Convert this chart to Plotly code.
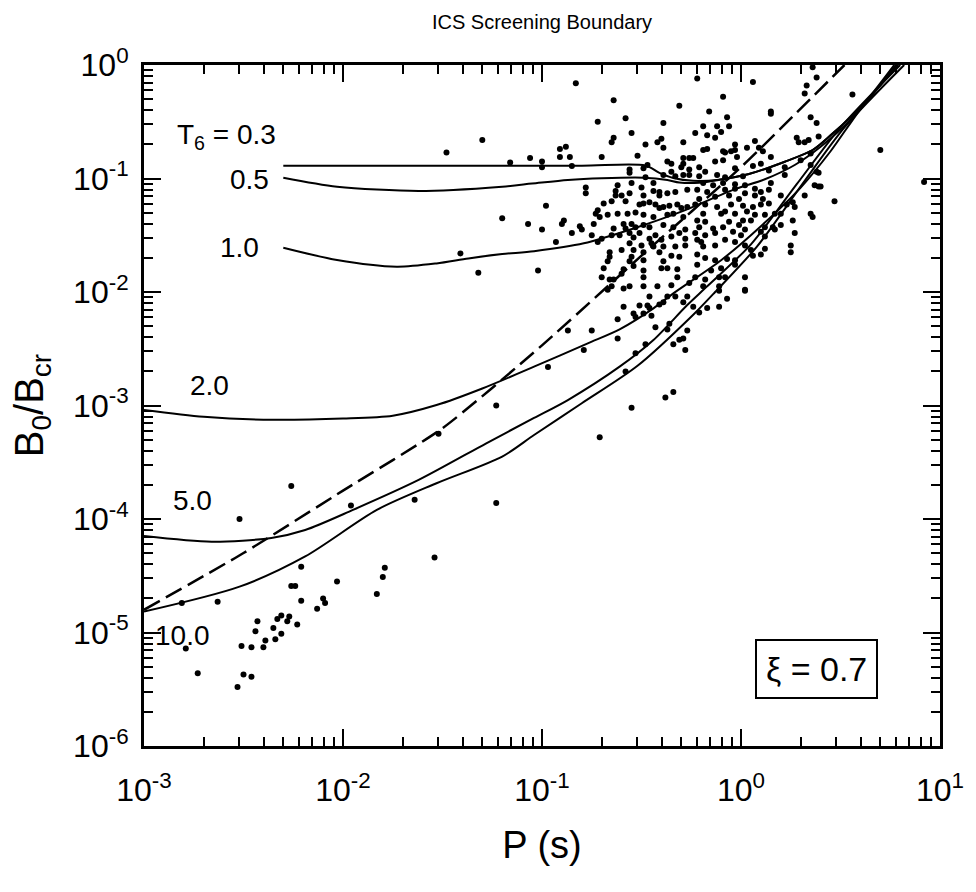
import plotly.graph_objects as go

# ---------------- data (log10 units) ----------------
x_tick_vals = [1e-3, 1e-2, 1e-1, 1e0, 1e1]
x_tick_text = ["10<sup>-3</sup>", "10<sup>-2</sup>", "10<sup>-1</sup>", "10<sup>0</sup>", "10<sup>1</sup>"]
y_tick_vals = [1e-6, 1e-5, 1e-4, 1e-3, 1e-2, 1e-1, 1e0]
y_tick_text = ["10<sup>-6</sup>", "10<sup>-5</sup>", "10<sup>-4</sup>", "10<sup>-3</sup>",
               "10<sup>-2</sup>", "10<sup>-1</sup>", "10<sup>0</sup>"]

# pulsars: (log10 P, log10 B0/Bcr)
pulsar_logP_logB = [
    (-1.48,-0.77), (-1.30,-0.66), (-1.16,-0.86), (-1.06,-0.82), (-1.20,-1.35), (-1.07,-1.40), (-1.41,-1.66), (-1.32,-1.83),
    (-1.23,-3.00), (-1.52,-3.25), (-2.26,-3.71), (-2.52,-4.00), (-1.96,-3.88), (-1.64,-3.83), (-1.23,-3.86), (-1.54,-4.34),
    (-2.21,-4.42), (-1.79,-4.43), (-1.80,-4.51), (-2.03,-4.55), (-2.26,-4.59), (-2.24,-4.59), (-1.83,-4.66), (-2.10,-4.70),
    (-2.09,-4.74), (-2.21,-4.72), (-2.13,-4.79), (-2.81,-4.74), (-2.63,-4.73), (-2.43,-4.90), (-2.33,-4.88), (-2.31,-4.85),
    (-2.27,-4.86), (-2.28,-4.90), (-2.23,-4.93), (-2.35,-4.96),
    (-2.79,-5.14), (-2.73,-5.36), (-2.51,-5.12), (-2.50,-5.37), (-2.46,-5.39), (-2.53,-5.48), (-2.46,-5.13), (-2.40,-5.13),
    (-2.39,-5.07), (-2.44,-4.99), (-2.34,-5.06), (-2.31,-5.01),
    (-0.97,-2.66), (-0.79,-2.51), (-0.62,-2.41), (-0.87,-2.34), (-0.75,-2.34), (-0.58,-2.70), (-0.53,-2.54), (-0.48,-2.46),
    (-0.34,-2.46), (-0.31,-2.42), (-0.29,-2.41), (-0.28,-2.51), (-0.27,-2.34), (-0.55,-3.02), (-0.38,-2.93), (-0.34,-2.88),
    (-0.71,-3.28),
    (-0.21,-2.18), (-0.17,-2.14), (-0.11,-2.13), (-0.07,-2.06), (-0.11,-1.99), (0.02,-1.99),
    (-0.62,-2.24), (-0.59,-2.13), (-0.54,-2.19), (-0.53,-2.22), (-0.51,-2.12), (-0.49,-2.19), (-0.47,-2.12), (-0.46,-2.14),
    (-0.45,-2.21), (-0.46,-2.04), (-0.43,-2.31), (-0.41,-2.11), (-0.39,-2.09), (-0.37,-2.04), (-0.36,-2.28), (-0.37,-2.33),
    (-0.33,-2.04), (-0.29,-2.09), (-0.27,-2.04),
    (-0.83,-0.16), (-0.64,-0.31), (-0.31,-0.36), (-0.72,-0.50), (-0.58,-0.47), (-0.39,-0.51), (-0.55,-0.60), (-0.64,-0.64),
    (-0.65,-0.68), (-0.91,-0.74), (-0.88,-0.72), (-0.91,-0.81), (-0.86,-0.81), (-0.70,-0.81), (-0.52,-0.80), (-0.48,-0.70),
    (-0.42,-0.68), (-0.40,-0.65), (-0.39,-0.73), (-0.29,-0.68), (-0.85,-0.89), (-0.56,-0.92), (-0.56,-0.95), (-0.49,-0.91),
    (-0.47,-0.88), (-0.37,-0.85), (-0.35,-0.87), (-0.29,-0.82), (-0.29,-0.87), (-0.30,-0.90), (-0.26,-0.82), (-0.26,-0.92),
    (-0.35,-0.94), (-0.39,-0.97), (-0.48,-0.99), (-0.33,-0.98), (-0.29,-0.97), (-0.26,-0.97),
    (-0.22,-0.12), (0.06,-0.15), (0.36,-0.02), (0.38,-0.11), (0.33,-0.18), (0.32,-0.25), (-0.09,-0.28), (-0.16,-0.41),
    (0.15,-0.41), (0.15,-0.43), (-0.07,-0.46), (0.35,-0.46), (0.38,-0.51), (-0.19,-0.54), (-0.12,-0.54), (-0.06,-0.54),
    (-0.23,-0.60), (-0.17,-0.62), (-0.13,-0.64), (-0.10,-0.59), (0.07,-0.67), (0.28,-0.64), (0.29,-0.68), (0.32,-0.68),
    (0.34,-0.66), (0.39,-0.63), (-0.03,-0.70), (-0.19,-0.75), (-0.17,-0.74), (-0.09,-0.76), (-0.08,-0.77), (-0.05,-0.76),
    (-0.03,-0.75), (0.03,-0.73), (0.09,-0.73), (0.11,-0.76), (-0.24,-0.82), (-0.21,-0.90), (-0.13,-0.85), (-0.09,-0.84),
    (-0.02,-0.81), (0.15,-0.81), (0.06,-0.89), (0.10,-0.87), (-0.03,-0.91), (-0.18,-0.94), (-0.12,-0.97), (-0.08,-0.99),
    (0.01,-0.98), (0.14,-0.93), (0.22,-0.90), (0.22,-0.97), (0.30,-0.84), (0.35,-0.88), (0.38,-0.94), (-0.21,-0.98),
    (-0.78,-1.08), (-0.78,-1.13), (-0.62,-1.06), (-0.55,-1.04), (-0.50,-1.08), (-0.44,-1.04), (-0.63,-1.11), (-0.63,-1.15),
    (-0.60,-1.15), (-0.56,-1.13), (-0.49,-1.15), (-0.44,-1.11), (-0.41,-1.12), (-0.41,-1.15), (-0.37,-1.13), (-0.33,-1.12),
    (-0.27,-1.10), (-0.69,-1.22), (-0.65,-1.20), (-0.58,-1.20), (-0.51,-1.23), (-0.49,-1.22), (-0.46,-1.21), (-0.43,-1.23),
    (-0.41,-1.26), (-0.39,-1.25), (-0.36,-1.24), (-0.32,-1.23), (-0.30,-1.26), (-0.27,-1.25), (-0.72,-1.28), (-0.73,-1.31),
    (-0.71,-1.34), (-0.67,-1.32), (-0.62,-1.31), (-0.57,-1.31), (-0.53,-1.30), (-0.49,-1.32), (-0.44,-1.34), (-0.37,-1.32),
    (-0.34,-1.31), (-0.29,-1.34), (-0.89,-1.37), (-0.90,-1.40), (-0.81,-1.42), (-0.80,-1.45), (-0.74,-1.40), (-0.64,-1.44),
    (-0.59,-1.40), (-0.58,-1.44), (-0.55,-1.40), (-0.53,-1.43), (-0.49,-1.41), (-0.46,-1.43), (-0.39,-1.41), (-0.34,-1.43),
    (-0.28,-1.45), (-0.85,-1.48), (-0.75,-1.50), (-0.70,-1.53), (-0.65,-1.50), (-0.61,-1.50), (-0.56,-1.48), (-0.54,-1.52),
    (-0.51,-1.48), (-0.46,-1.53), (-0.43,-1.50), (-0.40,-1.54), (-0.35,-1.51), (-0.31,-1.48), (-0.28,-1.53), (-0.93,-1.56),
    (-0.72,-1.56), (-0.56,-1.57), (-0.50,-1.59), (-0.45,-1.57), (-0.44,-1.60), (-0.39,-1.60), (-0.33,-1.60), (-0.28,-1.59),
    (-0.66,-1.65), (-0.60,-1.63), (-0.54,-1.63), (-0.49,-1.65), (-0.41,-1.65), (-0.35,-1.68), (-0.31,-1.69), (-0.66,-1.69),
    (-0.67,-1.73), (-0.55,-1.69), (-0.56,-1.73), (-0.49,-1.72), (-0.39,-1.73), (-0.69,-1.79), (-0.59,-1.80), (-0.54,-1.77),
    (-0.49,-1.81), (-0.40,-1.79), (-0.37,-1.79), (-0.32,-1.80), (-0.70,-1.87), (-0.60,-1.84), (-0.49,-1.87), (-0.32,-1.87),
    (-0.65,-1.95), (-0.56,-1.95), (-0.49,-1.95), (-0.42,-1.95), (-0.35,-1.94), (-0.26,-1.92),
    (-0.19,-1.04), (-0.14,-1.06), (-0.09,-1.04), (-0.03,-1.05), (0.02,-1.06), (0.15,-1.04), (-0.22,-1.10), (-0.17,-1.12),
    (-0.08,-1.10), (-0.03,-1.09), (0.02,-1.13), (0.07,-1.09), (0.10,-1.12), (0.14,-1.10), (0.37,-1.06), (0.40,-1.07),
    (0.32,-1.15), (-0.21,-1.18), (-0.13,-1.16), (-0.06,-1.15), (-0.01,-1.18), (0.07,-1.15), (0.11,-1.18), (0.20,-1.15),
    (-0.23,-1.23), (-0.18,-1.23), (-0.12,-1.25), (-0.05,-1.23), (0.01,-1.24), (0.06,-1.25), (0.10,-1.23), (0.14,-1.22),
    (0.23,-1.23), (0.26,-1.21), (0.27,-1.25), (-0.19,-1.31), (-0.10,-1.31), (-0.08,-1.29), (-0.03,-1.31), (0.03,-1.29),
    (0.07,-1.32), (0.12,-1.32), (0.17,-1.31), (0.20,-1.31), (0.35,-1.31), (0.36,-1.34), (-0.22,-1.37), (-0.18,-1.38),
    (-0.06,-1.38), (0.01,-1.37), (0.05,-1.37), (0.26,-1.37), (-0.21,-1.43), (-0.14,-1.44), (-0.09,-1.43), (-0.01,-1.41),
    (0.02,-1.45), (0.12,-1.43), (0.16,-1.43), (0.20,-1.41), (-0.23,-1.48), (-0.18,-1.50), (-0.13,-1.48), (-0.04,-1.47),
    (0.00,-1.50), (0.10,-1.47), (0.17,-1.45), (0.27,-1.48), (-0.22,-1.54), (-0.20,-1.56), (-0.08,-1.54), (-0.03,-1.56),
    (0.12,-1.51), (-0.19,-1.60), (-0.13,-1.59), (0.02,-1.59), (0.25,-1.59), (0.05,-1.63), (0.12,-1.62), (0.25,-1.65),
    (-0.22,-1.67), (-0.18,-1.70), (-0.13,-1.72), (-0.07,-1.71), (-0.03,-1.72), (0.06,-1.68), (0.10,-1.67), (-0.22,-1.76),
    (-0.15,-1.81), (-0.10,-1.79), (-0.03,-1.76), (-0.23,-1.87), (-0.18,-1.89), (-0.11,-1.87), (-0.08,-1.87), (0.02,-1.87),
    (-0.19,-1.95), (-0.11,-1.95), (0.02,-1.98),
    (0.56,-0.26), (0.70,-0.75), (0.92,-1.03), (0.47,-1.20), (0.39,-0.95), (0.39,-1.07), (0.35,-0.78), (-1.00,-0.85),
    (-1.00,-0.90), (-1.02,-1.81), (-0.98,-1.24), (-1.00,-1.45), (-0.67,-1.98), (-0.64,-1.89), (-0.66,-1.89), (-0.59,-1.97),
    (-0.24,-2.13),
]

# screening boundary curves, T6 labels and (log10 P, log10 B) nodes
curve_labels = ["0.3", "0.5", "1.0", "2.0", "5.0", "10.0"]
curve_T03_logP = [-2.30, -1.5, -0.8, -0.48, -0.41, -0.34, -0.24, -0.11, 0.04, 0.22, 0.36, 0.45, 0.62, 0.78]
curve_T03_logB = [-0.887, -0.887, -0.887, -0.885, -0.95, -0.995, -1.02, -1.01, -0.96, -0.852, -0.749, -0.62, -0.34, 0.0]
curve_T05_logP = [-2.30, -2.03, -1.62, -1.20, -1.05, -0.87, -0.70, -0.49, -0.37, -0.31, -0.21, -0.11, 0.04, 0.22, 0.36, 0.45, 0.62, 0.78]
curve_T05_logB = [-0.993, -1.072, -1.11, -1.072, -1.045, -1.013, -0.998, -0.993, -1.013, -1.035, -1.037, -1.012, -0.96, -0.852, -0.749, -0.62, -0.34, 0.0]
curve_T10_logP = [-2.30, -2.03, -1.73, -1.53, -1.37, -1.20, -1.04, -0.79, -0.54, -0.29, -0.04, 0.12, 0.27, 0.40, 0.55, 0.77]
curve_T10_logB = [-1.61, -1.718, -1.777, -1.748, -1.704, -1.666, -1.640, -1.571, -1.440, -1.285, -1.10, -1.007, -0.881, -0.72, -0.484, 0.0]
curve_T20_logP = [-3.0, -2.7, -2.4, -2.0, -1.75, -1.53, -1.30, -1.04, -0.77, -0.61, -0.44, -0.34, -0.10, 0.10, 0.30, 0.45, 0.60, 0.79]
curve_T20_logB = [-3.04, -3.10, -3.125, -3.115, -3.09, -2.996, -2.85, -2.658, -2.452, -2.329, -2.144, -2.012, -1.72, -1.42, -1.08, -0.76, -0.39, 0.0]
curve_T50_logP = [-3.0, -2.66, -2.36, -2.19, -1.95, -1.62, -1.28, -1.04, -0.87, -0.61, -0.44, -0.27, -0.17, 0.05, 0.28, 0.50, 0.80]
curve_T50_logB = [-4.15, -4.20, -4.167, -4.097, -3.92, -3.656, -3.333, -3.11, -2.952, -2.658, -2.423, -2.115, -1.95, -1.58, -1.05, -0.55, 0.0]
curve_T100_logP = [-3.0, -2.52, -2.19, -1.83, -1.53, -1.20, -1.04, -0.80, -0.52, -0.24, -0.13, 0.08, 0.30, 0.52, 0.82]
curve_T100_logB = [-4.816, -4.596, -4.33, -3.92, -3.685, -3.45, -3.26, -2.98, -2.65, -2.20, -2.00, -1.60, -1.07, -0.55, 0.0]
dashed_logP = [-3.0, -2.5, -2.0, -1.5, -1.0, -0.5, 0.0, 0.52]
dashed_logB = [-4.8, -4.3, -3.75, -3.2, -2.47, -1.68, -0.9, 0.0]

# curve label positions (log10 P of right edge, log10 B of centre)
label_logP = [-2.325, -2.36, -2.41, -2.563, -2.648, -2.658]
label_logB = [-0.63, -1.013, -1.604, -2.82, -3.833, -5.022]

xi_text = "\u03be = 0.7"

# ---------------- figure ----------------
FONT = "Liberation Sans, Arial, sans-serif"
X_RANGE, Y_RANGE = [-3, 1], [-6, 0]
fig = go.Figure()

fig.add_trace(go.Scatter(
    x=[10 ** p for p, b in pulsar_logP_logB], y=[10 ** b for p, b in pulsar_logP_logB],
    mode="markers", marker=dict(color="black", size=6), showlegend=False, hoverinfo="skip"))

curves = [(curve_T03_logP, curve_T03_logB), (curve_T05_logP, curve_T05_logB), (curve_T10_logP, curve_T10_logB),
          (curve_T20_logP, curve_T20_logB), (curve_T50_logP, curve_T50_logB), (curve_T100_logP, curve_T100_logB)]
for lp, lb in curves:
    fig.add_trace(go.Scatter(x=[10 ** v for v in lp], y=[10 ** v for v in lb], mode="lines",
                             line=dict(color="black", width=2, shape="spline", smoothing=0.8),
                             showlegend=False, hoverinfo="skip"))

fig.add_trace(go.Scatter(x=[10 ** v for v in dashed_logP], y=[10 ** v for v in dashed_logB], mode="lines",
                         line=dict(color="black", width=2.5, dash="18px,7px", shape="spline", smoothing=0.6),
                         showlegend=False, hoverinfo="skip"))

for i, lab in enumerate(curve_labels):
    txt = "T<sub>6</sub> = " + lab if i == 0 else lab
    fig.add_annotation(x=label_logP[i], y=label_logB[i], xref="x", yref="y", text=txt, showarrow=False,
                       xanchor="right", yanchor="middle", font=dict(family=FONT, size=28, color="black"))

fig.add_annotation(x=0.845, y=0.1138, xref="paper", yref="paper", text=xi_text, showarrow=False,
                   xanchor="center", yanchor="middle", font=dict(family=FONT, size=34, color="black"),
                   bordercolor="black", borderwidth=2, borderpad=9, bgcolor="white")

minor_x = [m * 10 ** e for e in range(-3, 1) for m in range(2, 10)]
minor_y = [m * 10 ** e for e in range(-6, 0) for m in range(2, 10)]

fig.update_xaxes(type="log", range=X_RANGE, tickmode="array", tickvals=x_tick_vals, ticktext=x_tick_text,
                 showline=True, linecolor="black", linewidth=3, mirror="allticks",
                 ticks="inside", ticklen=17, tickwidth=2, tickcolor="black",
                 minor=dict(tickmode="array", tickvals=minor_x, ticks="inside", ticklen=9,
                            tickwidth=1.5, tickcolor="black", showgrid=False),
                 showgrid=False, zeroline=False,
                 tickfont=dict(family=FONT, size=32, color="black"),
                 ticklabelstandoff=14,
                 title=dict(text="P (s)", font=dict(family=FONT, size=38, color="black"), standoff=24))
fig.update_yaxes(type="log", range=Y_RANGE, tickmode="array", tickvals=y_tick_vals, ticktext=y_tick_text,
                 showline=True, linecolor="black", linewidth=3, mirror="allticks",
                 ticks="inside", ticklen=17, tickwidth=2, tickcolor="black",
                 minor=dict(tickmode="array", tickvals=minor_y, ticks="inside", ticklen=9,
                            tickwidth=1.5, tickcolor="black", showgrid=False),
                 showgrid=False, zeroline=False,
                 tickfont=dict(family=FONT, size=32, color="black"),
                 ticklabelstandoff=6,
                 title=dict(text="B<sub>0</sub>/B<sub>cr</sub>", font=dict(family=FONT, size=40, color="black"),
                            standoff=18))

fig.update_layout(
    width=976, height=892, margin=dict(l=144, r=26, t=65, b=146),
    paper_bgcolor="white", plot_bgcolor="white",
    title=dict(text="ICS Screening Boundary", x=0.5, xref="paper", y=0.975, yanchor="middle",
               font=dict(family=FONT, size=20, color="black")),
    showlegend=False,
)

fig.write_html("out.html")
